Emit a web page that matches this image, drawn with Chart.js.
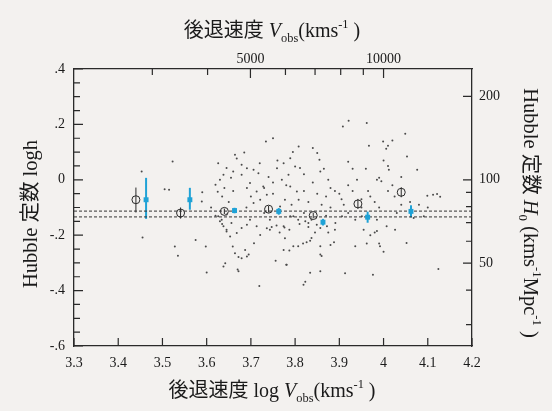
<!DOCTYPE html>
<html>
<head>
    <title>Hubble constant</title>
    <script src="https://cdn.jsdelivr.net/npm/chart.js"></script>
    <style>
        body { margin: 0; background: #f3f1ef; }
    </style>
</head>
<body>
    <canvas id="chart" width="552" height="411"></canvas>

    <script>
        // individual galaxies: log V_obs, log h
        const dotsLogV = [3.453,3.505,3.515,3.523,3.589,3.59,
            3.734,3.750,3.685,3.664,3.668,3.626,3.645,3.660,3.638,3.655,3.630,3.620,3.640,3.625,3.635,
            3.679,3.691,3.679,3.706,3.717,3.698,3.691,3.713,3.728,3.736,3.721,3.706,3.759,3.774,3.789,
            3.800,3.808,3.785,3.770,3.789,3.804,3.777,3.766,3.792,3.808,
            3.626,3.634,3.638,3.645,3.656,3.668,3.679,3.691,3.698,3.713,3.743,3.774,3.789,
            3.921,3.908,3.962,4.049,3.795,3.840,3.850,3.855,3.967,3.999,4.006,4.010,4.020,4.053,4.000,
            4.010,4.012,3.811,3.857,3.865,3.920,3.930,3.960,3.990,3.985,3.995,4.076,4.040,4.099,4.112,
            4.121,4.128,4.080,4.100,3.730,3.750,3.780,3.820,3.830,3.850,3.870,3.880,3.875,3.890,3.900,
            3.905,3.910,3.930,3.950,3.965,3.970,3.980,4.010,4.025,4.040,3.810,3.830,3.845,3.875,3.890,
            3.970,3.980,
            3.796,3.807,3.823,3.830,3.837,3.849,3.857,3.872,3.891,3.906,3.936,3.951,3.985,4.007,4.026,
            4.068,4.091,3.777,3.818,3.826,3.834,3.837,3.796,3.781,3.857,3.880,3.888,3.857,3.860,3.834,
            3.857,3.823,3.819,3.913,3.936,3.955,3.985,3.962,3.990,3.992,4.000,3.976,4.052,4.124,
            3.455,3.528,3.535,3.575,3.598,3.600,3.620,3.630,3.635,3.645,3.645,3.653,3.659,3.664,3.672,
            3.679,3.687,3.691,3.695,3.707,3.721,3.743,3.747,3.758,3.765,3.776,3.787,3.642,3.638,3.670,
            3.672,3.719,3.756,3.780,3.787,3.807,3.774,3.736,
            3.72,3.74,3.75,3.76,3.82,3.84,3.86,3.88,3.92,3.94,3.95,3.99,4.02,3.70,3.66,3.65,3.61,3.69,
            3.73,3.82,3.87,3.92,4.03,4.06];
        const dotsLogh = [0.030,-0.034,-0.036,0.066,-0.078,-0.045,
            0.138,0.150,0.099,0.090,0.077,0.060,0.043,0.030,0.018,0.007,0.000,-0.018,-0.030,-0.043,-0.060,
            0.054,0.042,0.018,0.036,0.024,-0.012,-0.030,-0.042,-0.024,-0.054,-0.072,-0.084,0.042,0.060,0.078,
            0.048,0.120,0.018,0.000,-0.024,-0.042,-0.072,-0.096,-0.090,-0.072,
            -0.132,-0.144,-0.168,-0.180,-0.156,-0.192,-0.174,-0.162,-0.144,-0.168,-0.144,-0.168,-0.132,
            0.213,0.192,0.205,0.166,0.100,0.115,0.097,0.072,0.123,0.138,0.112,0.123,0.142,0.084,0.070,
            0.050,0.036,0.043,0.030,0.040,0.065,0.040,0.040,0.007,0.000,-0.005,0.036,0.010,-0.058,-0.054,
            -0.051,-0.061,-0.090,-0.100,-0.030,-0.050,-0.020,-0.040,-0.080,-0.050,-0.060,-0.030,0.000,-0.040,-0.050,
            -0.070,-0.090,-0.040,-0.070,-0.040,-0.060,-0.080,-0.040,-0.060,-0.090,-0.160,-0.170,-0.190,-0.190,-0.180,
            -0.200,-0.190,
            -0.132,-0.144,-0.150,-0.156,-0.144,-0.162,-0.174,-0.168,-0.156,-0.132,-0.144,-0.132,-0.144,-0.168,-0.180,
            -0.138,-0.132,-0.211,-0.230,-0.225,-0.220,-0.210,-0.240,-0.307,-0.240,-0.235,-0.225,-0.270,-0.275,-0.336,
            -0.330,-0.368,-0.379,-0.337,-0.240,-0.180,-0.185,-0.230,-0.230,-0.240,-0.260,-0.343,-0.228,-0.322,
            -0.208,-0.241,-0.274,-0.217,-0.241,-0.335,-0.130,-0.150,-0.160,-0.125,-0.187,-0.205,-0.241,-0.265,-0.279,
            -0.283,-0.253,-0.277,-0.270,-0.229,-0.199,-0.180,-0.170,-0.165,-0.190,-0.172,-0.180,-0.301,-0.313,-0.324,
            -0.330,-0.383,-0.292,-0.307,-0.255,-0.240,-0.253,-0.175,
            0.06,0.01,-0.01,0.07,0.02,-0.01,-0.09,-0.10,-0.02,0.00,-0.10,-0.10,-0.02,-0.06,-0.04,-0.08,-0.10,-0.10,
            -0.12,-0.12,-0.13,-0.12,-0.12,-0.08];

        // binned means, open circles
        const binLogV = [3.440, 3.541, 3.640, 3.740, 3.841, 3.942, 4.040];
        const binLogh = [-0.072, -0.120, -0.114, -0.106, -0.129, -0.087, -0.045];
        const binLo = [-0.118, -0.140, -0.124, -0.118, -0.139, -0.105, -0.063];
        const binHi = [-0.028, -0.100, -0.104, -0.094, -0.119, -0.069, -0.027];

        // corrected means, blue squares
        const blueLogV = [3.463, 3.562, 3.663, 3.763, 3.863, 3.964, 4.062];
        const blueLogh = [-0.072, -0.072, -0.111, -0.114, -0.153, -0.135, -0.114];
        const blueLo = [-0.141, -0.108, -0.121, -0.126, -0.165, -0.155, -0.136];
        const blueHi = [0.007, -0.029, -0.101, -0.102, -0.141, -0.115, -0.092];

        // the two dashed reference levels
        const meanLevels = [-0.113, -0.134];

        // tick values
        const xTicks = [3.3, 3.4, 3.5, 3.6, 3.7, 3.8, 3.9, 4.0, 4.1, 4.2];
        const yTicks = [-0.6, -0.4, -0.2, 0, 0.2, 0.4];
        const yMinorTicks = [-0.55, -0.5, -0.45, -0.35, -0.3, -0.25, -0.15, -0.1, -0.05,
                             0.05, 0.1, 0.15, 0.25, 0.3, 0.35];
        const velTicks = [3000, 4000, 5000, 6000, 7000, 8000, 9000, 10000];
        const velLabels = [5000, 10000];
        const h0Ticks = [200, 100, 90, 80, 70, 60, 50, 40, 30];
        const h0Labels = [200, 100, 50];

        const blue = '#1fa2d6';
        const ink = '#2a2a2a';
        const serif = '"Liberation Serif", "Noto Sans CJK JP", serif';

        function fmtLogh(v) {
            const r = Math.round(v * 10) / 10;
            if (r === 0) return '0';
            return (r < 0 ? '-' : '') + String(Math.abs(r)).replace(/^0/, '');
        }

        // draw a run of text pieces (normal / italic / sub / sup), centred on 0
        function drawRich(ctx, parts, size) {
            const fontOf = p => (p.italic ? 'italic ' : '') + (p.small ? size * 0.62 : size) + 'px ' + serif;
            let total = 0;
            parts.forEach(p => { ctx.font = fontOf(p); total += ctx.measureText(p.t).width; });
            let x = -total / 2;
            parts.forEach(p => {
                ctx.font = fontOf(p);
                ctx.fillText(p.t, x, p.dy || 0);
                x += ctx.measureText(p.t).width;
            });
        }

        const paperPlugin = {
            id: 'paper',
            beforeDraw(chart) {
                const ctx = chart.ctx;
                ctx.save();
                ctx.fillStyle = '#f3f1ef';
                ctx.fillRect(0, 0, chart.width, chart.height);
                ctx.restore();
            }
        };

        // inward tick marks and error bars, placed with the chart's scales
        const marksPlugin = {
            id: 'marks',
            beforeDatasetsDraw(chart) {
                const { ctx, scales } = chart;
                const sx = scales.x, sy = scales.y;
                ctx.save();
                ctx.lineWidth = 1;
                ctx.strokeStyle = ink;
                binLogV.forEach((v, i) => {
                    const px = sx.getPixelForValue(v);
                    ctx.beginPath();
                    ctx.moveTo(px, sy.getPixelForValue(binLo[i]));
                    ctx.lineTo(px, sy.getPixelForValue(binHi[i]));
                    ctx.stroke();
                });
                ctx.strokeStyle = blue;
                ctx.lineWidth = 2;
                blueLogV.forEach((v, i) => {
                    const px = sx.getPixelForValue(v);
                    ctx.beginPath();
                    ctx.moveTo(px, sy.getPixelForValue(blueLo[i]));
                    ctx.lineTo(px, sy.getPixelForValue(blueHi[i]));
                    ctx.stroke();
                });
                ctx.restore();
            },
            afterDraw(chart) {
                const { ctx, scales, chartArea: a } = chart;
                ctx.save();
                ctx.strokeStyle = ink;
                ctx.lineWidth = 1.2;
                ctx.beginPath();
                xTicks.forEach(v => {
                    const px = scales.x.getPixelForValue(v);
                    ctx.moveTo(px, a.bottom); ctx.lineTo(px, a.bottom - 8);
                });
                yTicks.forEach(v => {
                    const py = scales.y.getPixelForValue(v);
                    ctx.moveTo(a.left, py); ctx.lineTo(a.left + 9, py);
                });
                yMinorTicks.forEach(v => {
                    const py = scales.y.getPixelForValue(v);
                    ctx.moveTo(a.left, py); ctx.lineTo(a.left + 6, py);
                });
                velTicks.forEach(v => {
                    const px = scales.x2.getPixelForValue(v);
                    const len = velLabels.includes(v) ? 9 : 6;
                    ctx.moveTo(px, a.top); ctx.lineTo(px, a.top + len);
                });
                h0Ticks.forEach(v => {
                    const py = scales.y2.getPixelForValue(v);
                    const len = h0Labels.includes(v) ? 9 : 6;
                    ctx.moveTo(a.right, py); ctx.lineTo(a.right - len, py);
                });
                ctx.stroke();

                // axis titles
                ctx.fillStyle = '#1a1a1a';
                ctx.textBaseline = 'alphabetic';
                ctx.textAlign = 'left';
                const vobs = [{ t: 'V', italic: true }, { t: 'obs', small: true, dy: 5 },
                              { t: '(kms' }, { t: '-1', small: true, dy: -9 }, { t: ' )' }];

                ctx.save();
                ctx.translate(272, 37);
                drawRich(ctx, [{ t: '後退速度 ' }].concat(vobs), 20);
                ctx.restore();

                ctx.save();
                ctx.translate(272, 397);
                drawRich(ctx, [{ t: '後退速度 log ' }].concat(vobs), 20);
                ctx.restore();

                ctx.save();
                ctx.translate(37, 214);
                ctx.rotate(-Math.PI / 2);
                drawRich(ctx, [{ t: 'Hubble 定数 logh' }], 20.5);
                ctx.restore();

                ctx.save();
                ctx.translate(524, 213);
                ctx.rotate(Math.PI / 2);
                drawRich(ctx, [{ t: 'Hubble 定数 ' }, { t: 'H', italic: true }, { t: '0', small: true, dy: 5 },
                               { t: ' (kms' }, { t: '-1', small: true, dy: -9 }, { t: 'Mpc' },
                               { t: '-1', small: true, dy: -9 }, { t: ' )' }], 20.5);
                ctx.restore();
                ctx.restore();
            }
        };

        const tickFont = { family: serif, size: 14 };
        const border = { display: true, color: ink, width: 1.3 };

        const ctx = document.getElementById('chart').getContext('2d');
        new Chart(ctx, {
            type: 'scatter',
            data: {
                datasets: [
                    {
                        label: 'galaxies',
                        data: dotsLogV.map((v, i) => ({ x: v, y: dotsLogh[i] })),
                        pointRadius: 1,
                        pointBackgroundColor: '#4a4a4a',
                        pointBorderWidth: 0,
                        xAxisID: 'x', yAxisID: 'y'
                    },
                    {
                        label: 'bins',
                        data: binLogV.map((v, i) => ({ x: v, y: binLogh[i] })),
                        pointStyle: 'circle',
                        pointRadius: 4,
                        pointBackgroundColor: 'rgba(0,0,0,0)',
                        pointBorderColor: ink,
                        pointBorderWidth: 1,
                        xAxisID: 'x', yAxisID: 'y'
                    },
                    {
                        label: 'corrected',
                        data: blueLogV.map((v, i) => ({ x: v, y: blueLogh[i] })),
                        pointStyle: 'rect',
                        pointRadius: 3.5,
                        pointBackgroundColor: blue,
                        pointBorderWidth: 0,
                        xAxisID: 'x', yAxisID: 'y'
                    },
                    ...meanLevels.map(m => ({
                        type: 'line',
                        label: 'mean',
                        data: [{ x: 3.3, y: m }, { x: 4.2, y: m }],
                        borderColor: '#333',
                        borderWidth: 1,
                        borderDash: [3, 2],
                        pointRadius: 0,
                        xAxisID: 'x', yAxisID: 'y'
                    }))
                ]
            },
            options: {
                responsive: false,
                animation: false,
                events: [],
                layout: { padding: 0 },
                plugins: { legend: { display: false }, tooltip: { enabled: false } },
                scales: {
                    x: {
                        type: 'linear', position: 'bottom', min: 3.3, max: 4.2,
                        afterBuildTicks: s => { s.ticks = xTicks.map(v => ({ value: v })); },
                        afterFit: s => { s.height = 65; },
                        grid: { display: false, drawTicks: false },
                        border: border,
                        ticks: { autoSkip: false, maxRotation: 0, padding: 9, color: '#1a1a1a', font: tickFont,
                                 callback: v => String(Math.round(v * 10) / 10) }
                    },
                    x2: {
                        type: 'logarithmic', position: 'top', min: Math.pow(10, 3.3), max: Math.pow(10, 4.2),
                        afterBuildTicks: s => { s.ticks = velTicks.map(v => ({ value: v })); },
                        afterFit: s => { s.height = 69; },
                        grid: { display: false, drawTicks: false },
                        border: border,
                        ticks: { autoSkip: false, maxRotation: 0, padding: 1, color: '#1a1a1a', font: tickFont,
                                 callback: v => velLabels.includes(v) ? String(v) : '' }
                    },
                    y: {
                        type: 'linear', position: 'left', min: -0.6, max: 0.4,
                        afterBuildTicks: s => { s.ticks = yTicks.map(v => ({ value: v })); },
                        afterFit: s => { s.width = 74; },
                        grid: { display: false, drawTicks: false },
                        border: border,
                        ticks: { autoSkip: false, padding: 9, color: '#1a1a1a', font: tickFont,
                                 callback: v => fmtLogh(v) }
                    },
                    y2: {
                        type: 'logarithmic', position: 'right',
                        min: 100 * Math.pow(10, -0.6), max: 100 * Math.pow(10, 0.4),
                        afterBuildTicks: s => { s.ticks = h0Ticks.map(v => ({ value: v })); },
                        afterFit: s => { s.width = 80; },
                        grid: { display: false, drawTicks: false },
                        border: border,
                        ticks: { autoSkip: false, padding: 7, color: '#1a1a1a', font: tickFont,
                                 callback: v => h0Labels.includes(v) ? String(v) : '' }
                    }
                }
            },
            plugins: [paperPlugin, marksPlugin]
        });
    </script>
</body>
</html>
